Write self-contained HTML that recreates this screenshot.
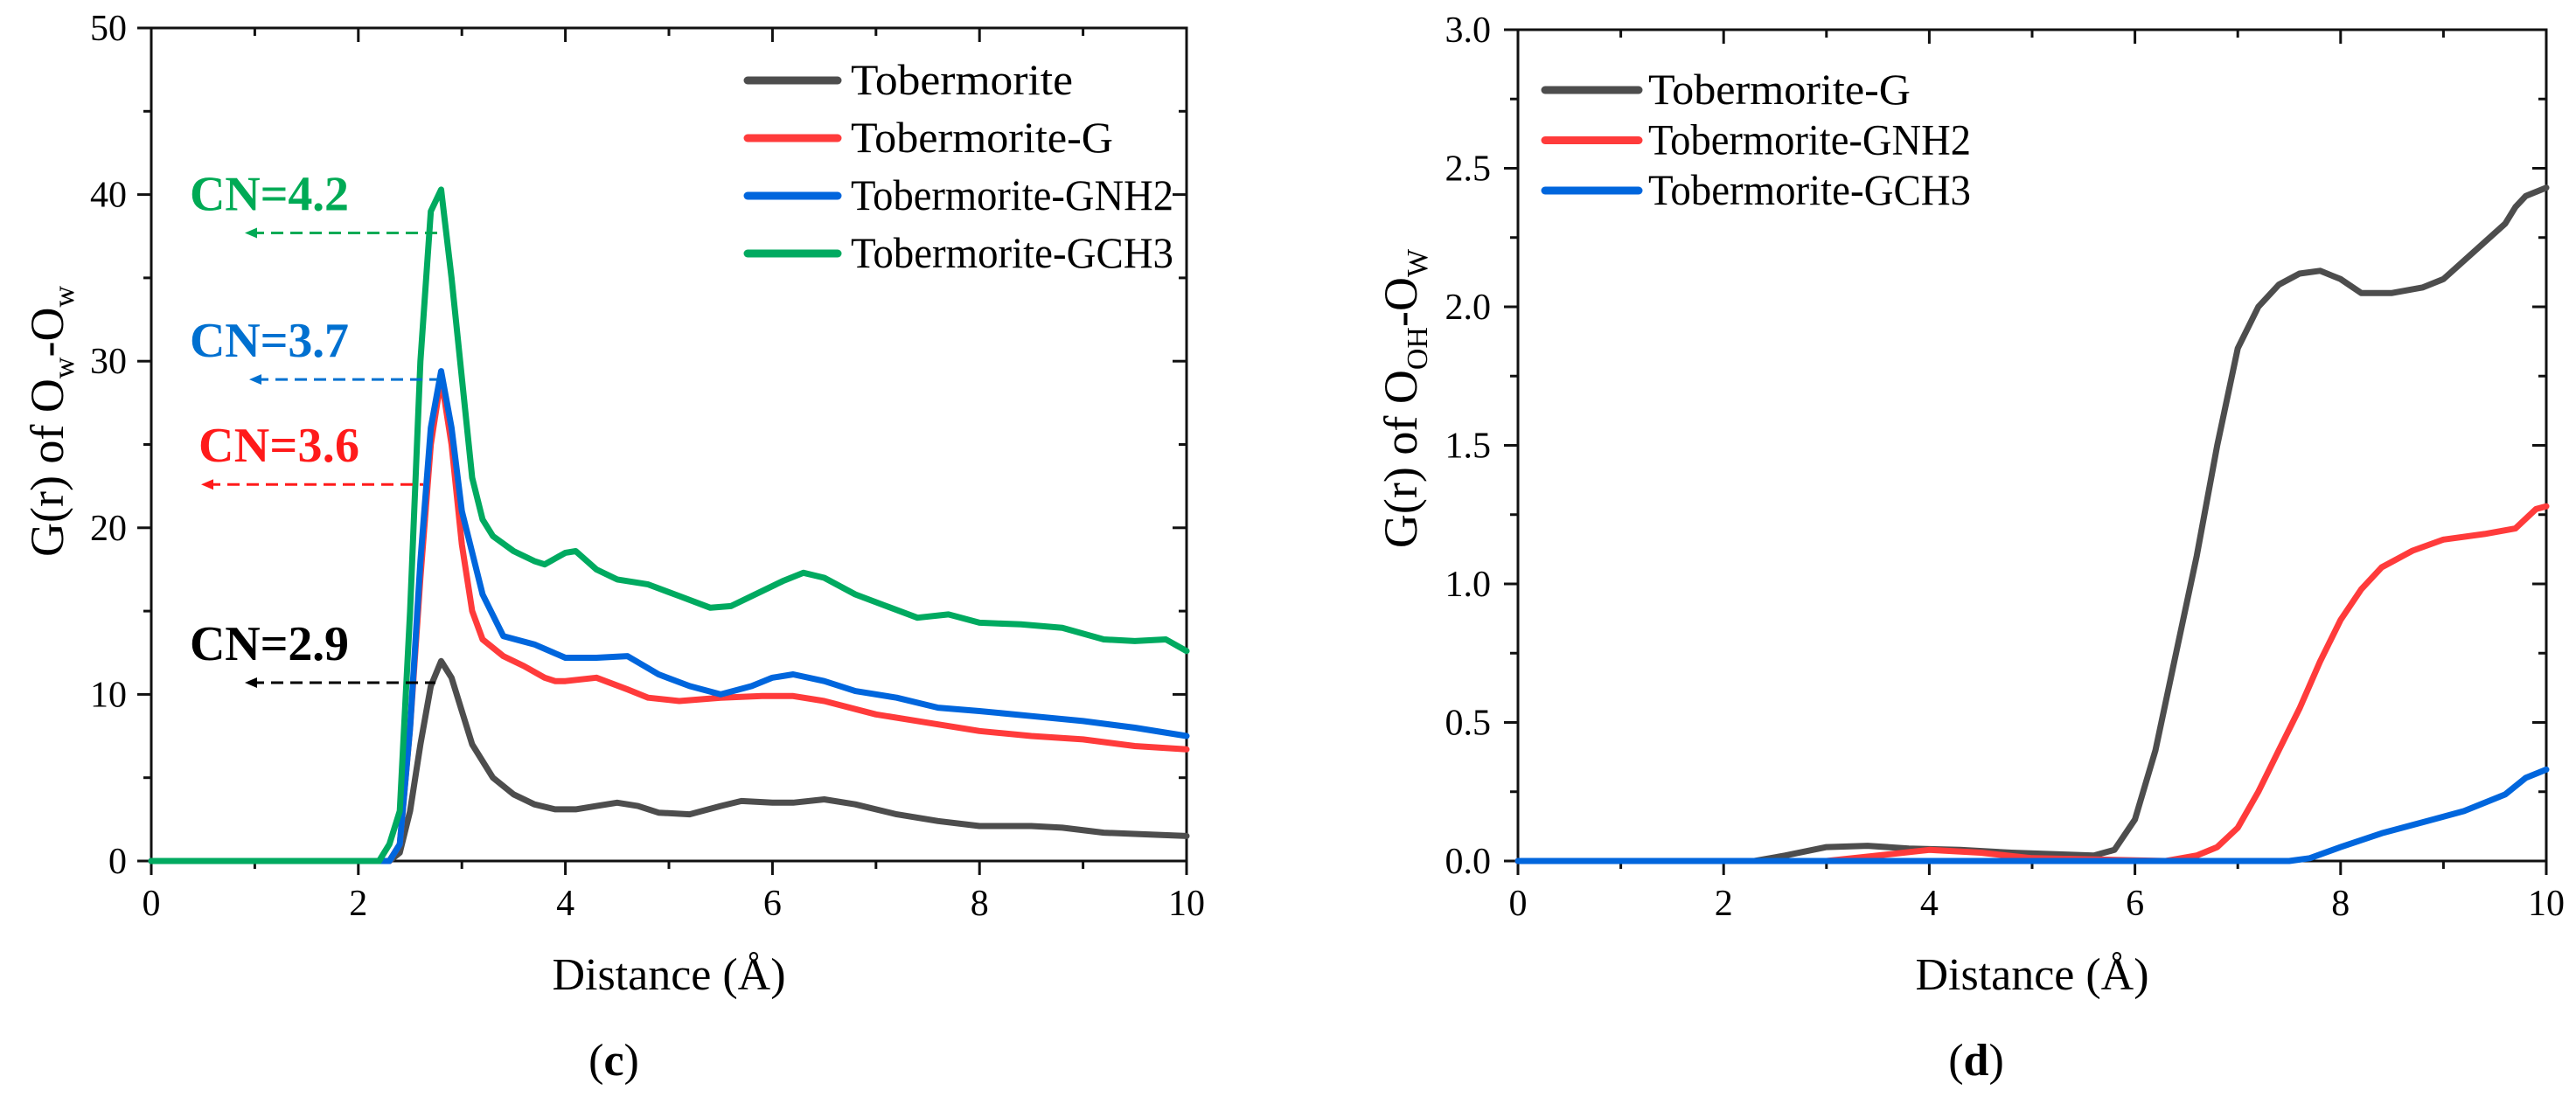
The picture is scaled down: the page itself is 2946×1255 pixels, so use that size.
<!DOCTYPE html>
<html><head><meta charset="utf-8"><style>
html,body{margin:0;padding:0;background:#fff;}
svg{display:block;font-family:"Liberation Serif",serif;}
</style></head><body>
<svg id="fig" width="2946" height="1255" viewBox="0 0 2946 1255" xmlns="http://www.w3.org/2000/svg">
<g id="panelC"></g>
<g id="panelD"></g>
</svg>
<script>
// ---- Panel (c) data ----
const cXTicks = [0, 2, 4, 6, 8, 10];
const cYTicks = [0, 10, 20, 30, 40, 50];
const cTobX = [0,2.3,2.4,2.5,2.6,2.7,2.8,2.9,3.0,3.1,3.3,3.5,3.7,3.9,4.1,4.3,4.5,4.7,4.9,5.2,5.5,5.7,6.0,6.2,6.5,6.8,7.2,7.6,8.0,8.5,8.8,9.2,9.6,10];
const cTobY = [0,0,0.5,3,7,10.5,12,11,9,7,5,4,3.4,3.1,3.1,3.3,3.5,3.3,2.9,2.8,3.3,3.6,3.5,3.5,3.7,3.4,2.8,2.4,2.1,2.1,2.0,1.7,1.6,1.5];
const cGX = [0,2.3,2.4,2.5,2.6,2.7,2.8,2.9,3.0,3.1,3.2,3.4,3.6,3.8,3.9,4.0,4.3,4.6,4.8,5.1,5.5,5.9,6.2,6.5,7.0,7.5,8.0,8.5,9.0,9.5,10];
const cGY = [0,0,1,8,17,25,29,25,19,15,13.3,12.3,11.7,11.0,10.8,10.8,11.0,10.3,9.8,9.6,9.8,9.9,9.9,9.6,8.8,8.3,7.8,7.5,7.3,6.9,6.7];
const cNH2X = [0,2.3,2.4,2.5,2.6,2.7,2.8,2.9,3.0,3.2,3.4,3.7,4.0,4.3,4.6,4.9,5.2,5.5,5.8,6.0,6.2,6.5,6.8,7.2,7.6,8.0,8.5,9.0,9.5,10];
const cNH2Y = [0,0,1,8,18,26,29.4,26,21,16,13.5,13,12.2,12.2,12.3,11.2,10.5,10.0,10.5,11.0,11.2,10.8,10.2,9.8,9.2,9.0,8.7,8.4,8.0,7.5];
const cCH3X = [0,2.2,2.3,2.4,2.5,2.6,2.7,2.8,2.9,3.0,3.1,3.2,3.3,3.5,3.7,3.8,4.0,4.1,4.3,4.5,4.8,5.1,5.4,5.6,5.9,6.1,6.3,6.5,6.8,7.1,7.4,7.7,8.0,8.4,8.8,9.2,9.5,9.8,10];
const cCH3Y = [0,0,1,3,15,30,39,40.3,35,29,23,20.5,19.5,18.6,18,17.8,18.5,18.6,17.5,16.9,16.6,15.9,15.2,15.3,16.2,16.8,17.3,17.0,16.0,15.3,14.6,14.8,14.3,14.2,14.0,13.3,13.2,13.3,12.6];
const cLegend = ["Tobermorite","Tobermorite-G","Tobermorite-GNH2","Tobermorite-GCH3"];
const cCNLabels = ["CN=2.9","CN=3.6","CN=3.7","CN=4.2"];
const cCNValues = [10.7, 22.6, 28.9, 37.7];
// ---- Panel (d) data ----
const dXTicks = [0, 2, 4, 6, 8, 10];
const dYTicks = [0, 0.5, 1.0, 1.5, 2.0, 2.5, 3.0];
const dGX = [0,2.3,2.6,3.0,3.4,3.8,4.3,4.8,5.2,5.6,5.8,6.0,6.2,6.4,6.6,6.8,7.0,7.2,7.4,7.6,7.8,8.0,8.2,8.5,8.8,9.0,9.3,9.6,9.7,9.8,10];
const dGY = [0,0,0.02,0.05,0.055,0.045,0.04,0.03,0.025,0.02,0.04,0.15,0.4,0.75,1.1,1.5,1.85,2.0,2.08,2.12,2.13,2.1,2.05,2.05,2.07,2.1,2.2,2.3,2.36,2.4,2.43];
const dNH2X = [0,3.0,3.5,4.0,4.5,5.0,6.3,6.6,6.8,7.0,7.2,7.4,7.6,7.8,8.0,8.2,8.4,8.7,9.0,9.4,9.7,9.9,10];
const dNH2Y = [0,0,0.02,0.04,0.03,0.01,0,0.02,0.05,0.12,0.25,0.4,0.55,0.72,0.87,0.98,1.06,1.12,1.16,1.18,1.2,1.27,1.28];
const dCH3X = [0,7.5,7.7,8.0,8.4,8.8,9.2,9.6,9.8,10];
const dCH3Y = [0,0,0.01,0.05,0.1,0.14,0.18,0.24,0.3,0.33];
const dLegend = ["Tobermorite-G","Tobermorite-GNH2","Tobermorite-GCH3"];

const NS = "http://www.w3.org/2000/svg";
const COL = {k:"#4d4d4d", r:"#ff3b3b", b:"#0066dd", g:"#00aa60"};
function mk(parent, tag, attrs, text){
  const e = document.createElementNS(NS, tag);
  for (const k in attrs) e.setAttribute(k, attrs[k]);
  if (text !== undefined) e.textContent = text;
  parent.appendChild(e); return e;
}
function axes(g, L, R, T, B, xmax, ymax, xt, yt, yfmt, ylabX){
  const sx = v => L + v / xmax * (R - L);
  const sy = v => B - v / ymax * (B - T);
  const fr = mk(g, "rect", {x:L, y:T, width:R-L, height:B-T, fill:"none", stroke:"#111", "stroke-width":3});
  
  
  // x ticks
  for (let i = 0; i < xt.length; i++){
    const x = sx(xt[i]);
    mk(g, "line", {x1:x, x2:x, y1:B, y2:B+16, stroke:"#111", "stroke-width":3});
    mk(g, "line", {x1:x, x2:x, y1:T, y2:T+16, stroke:"#111", "stroke-width":3});
    const t = mk(g, "text", {x:x, y:B+62, "font-size":42, "text-anchor":"middle"}, String(xt[i]));
    
    
    if (i < xt.length - 1){
      const xm = sx((xt[i] + xt[i+1]) / 2);
      mk(g, "line", {x1:xm, x2:xm, y1:B, y2:B+9, stroke:"#111", "stroke-width":3});
      mk(g, "line", {x1:xm, x2:xm, y1:T, y2:T+9, stroke:"#111", "stroke-width":3});
    }
  }
  for (let i = 0; i < yt.length; i++){
    const y = sy(yt[i]);
    mk(g, "line", {x1:L-16, x2:L, y1:y, y2:y, stroke:"#111", "stroke-width":3});
    mk(g, "line", {x1:R-16, x2:R, y1:y, y2:y, stroke:"#111", "stroke-width":3});
    const t = mk(g, "text", {x:ylabX, y:y+14, "font-size":42, "text-anchor":"end"}, yfmt(yt[i]));
    
    
    if (i < yt.length - 1){
      const ym = sy((yt[i] + yt[i+1]) / 2);
      mk(g, "line", {x1:L-9, x2:L, y1:ym, y2:ym, stroke:"#111", "stroke-width":3});
      mk(g, "line", {x1:R-9, x2:R, y1:ym, y2:ym, stroke:"#111", "stroke-width":3});
    }
  }
  return {sx, sy};
}
function series(g, xs, ys, sx, sy, color, name){
  let d = "";
  for (let i = 0; i < xs.length; i++) d += (i ? "L" : "M") + sx(xs[i]).toFixed(1) + "," + sy(ys[i]).toFixed(1);
  const p = mk(g, "path", {d:d, fill:"none", stroke:color, "stroke-width":7, "stroke-linejoin":"round", "stroke-linecap":"round"});
  
  
}
function legend(g, items, colors, lx1, lx2, y0, dy, tx, tlen){
  for (let i = 0; i < items.length; i++){
    const y = y0 + i * dy;
    const l = mk(g, "line", {x1:lx1, x2:lx2, y1:y, y2:y, stroke:colors[i], "stroke-width":9, "stroke-linecap":"round"});
    
    
    const t = mk(g, "text", {x:tx, y:y+16, "font-size":50}, items[i]);
    
    
    t.setAttribute("textLength", (tlen * items[i].length / 16).toFixed(0));
    t.setAttribute("lengthAdjust", "spacingAndGlyphs");
  }
}

// ---- Panel (c) ----
const gc = document.getElementById("panelC");
const ac = axes(gc, 173, 1357, 32, 985, 10, 50, cXTicks, cYTicks, v => String(v), 145);
series(gc, cTobX, cTobY, ac.sx, ac.sy, COL.k, "series-tobermorite");
series(gc, cGX, cGY, ac.sx, ac.sy, COL.r, "series-tobermorite-g");
series(gc, cNH2X, cNH2Y, ac.sx, ac.sy, COL.b, "series-tobermorite-gnh2");
series(gc, cCH3X, cCH3Y, ac.sx, ac.sy, COL.g, "series-tobermorite-gch3");
legend(gc, cLegend, [COL.k, COL.r, COL.b, COL.g], 855, 958, 92, 66, 973, 369);
// CN annotations
const cnColors = ["#000000", "#ff1a1a", "#0070d0", "#00aa55"];
const cnLabelX = [217, 227, 217, 217];
const cnArrowX1 = [280, 230, 285, 280];
const cnArrowX2 = [498, 484, 503, 500];
for (let i = 0; i < cCNLabels.length; i++){
  const y = ac.sy(cCNValues[i]);
  const a = mk(gc, "line", {x1:cnArrowX1[i]+8, x2:cnArrowX2[i], y1:y, y2:y, stroke:cnColors[i], "stroke-width":3, "stroke-dasharray":"14 8"});
  
  
  const h = mk(gc, "path", {d:`M${cnArrowX1[i]},${y} l14,-6 l0,12 z`, fill:cnColors[i]});
  
  
  const t = mk(gc, "text", {x:cnLabelX[i], y:y-26, "font-size":56, "font-weight":"bold", fill:cnColors[i]}, cCNLabels[i]);
  
  
  t.setAttribute("textLength", i === 1 ? 184 : 182);
}
const ytc = mk(gc, "text", {x:0, y:0, "font-size":54, "text-anchor":"middle", transform:"translate(72,482) rotate(-90)"});


ytc.innerHTML = 'G(r) of O<tspan font-size="34" dy="12">w</tspan><tspan dy="-12">-O</tspan><tspan font-size="34" dy="12">w</tspan>';
const xtc = mk(gc, "text", {x:765, y:1132, "font-size":52, "text-anchor":"middle"}, "Distance (Å)");


const capc = mk(gc, "text", {x:702, y:1230, "font-size":52, "text-anchor":"middle"});


capc.innerHTML = '(<tspan font-weight="bold">c</tspan>)';

// ---- Panel (d) ----
const gd = document.getElementById("panelD");
const ad = axes(gd, 1736, 2912, 34, 985, 10, 3, dXTicks, dYTicks, v => v.toFixed(1), 1705);
series(gd, dGX, dGY, ad.sx, ad.sy, COL.k, "series-tobermorite-g");
series(gd, dNH2X, dNH2Y, ad.sx, ad.sy, COL.r, "series-tobermorite-gnh2");
series(gd, dCH3X, dCH3Y, ad.sx, ad.sy, COL.b, "series-tobermorite-gch3");
legend(gd, dLegend, [COL.k, COL.r, COL.b], 1767, 1874, 103, 57.5, 1885, 369);
const ytd = mk(gd, "text", {x:0, y:0, "font-size":54, "text-anchor":"middle", transform:"translate(1620,456) rotate(-90)"});


ytd.innerHTML = 'G(r) of O<tspan font-size="34" dy="12">OH</tspan><tspan dy="-12">-O</tspan><tspan font-size="34" dy="12">W</tspan>';
const xtd = mk(gd, "text", {x:2324, y:1132, "font-size":52, "text-anchor":"middle"}, "Distance (Å)");


const capd = mk(gd, "text", {x:2260, y:1230, "font-size":52, "text-anchor":"middle"});


capd.innerHTML = '(<tspan font-weight="bold">d</tspan>)';
</script>
</body></html>
